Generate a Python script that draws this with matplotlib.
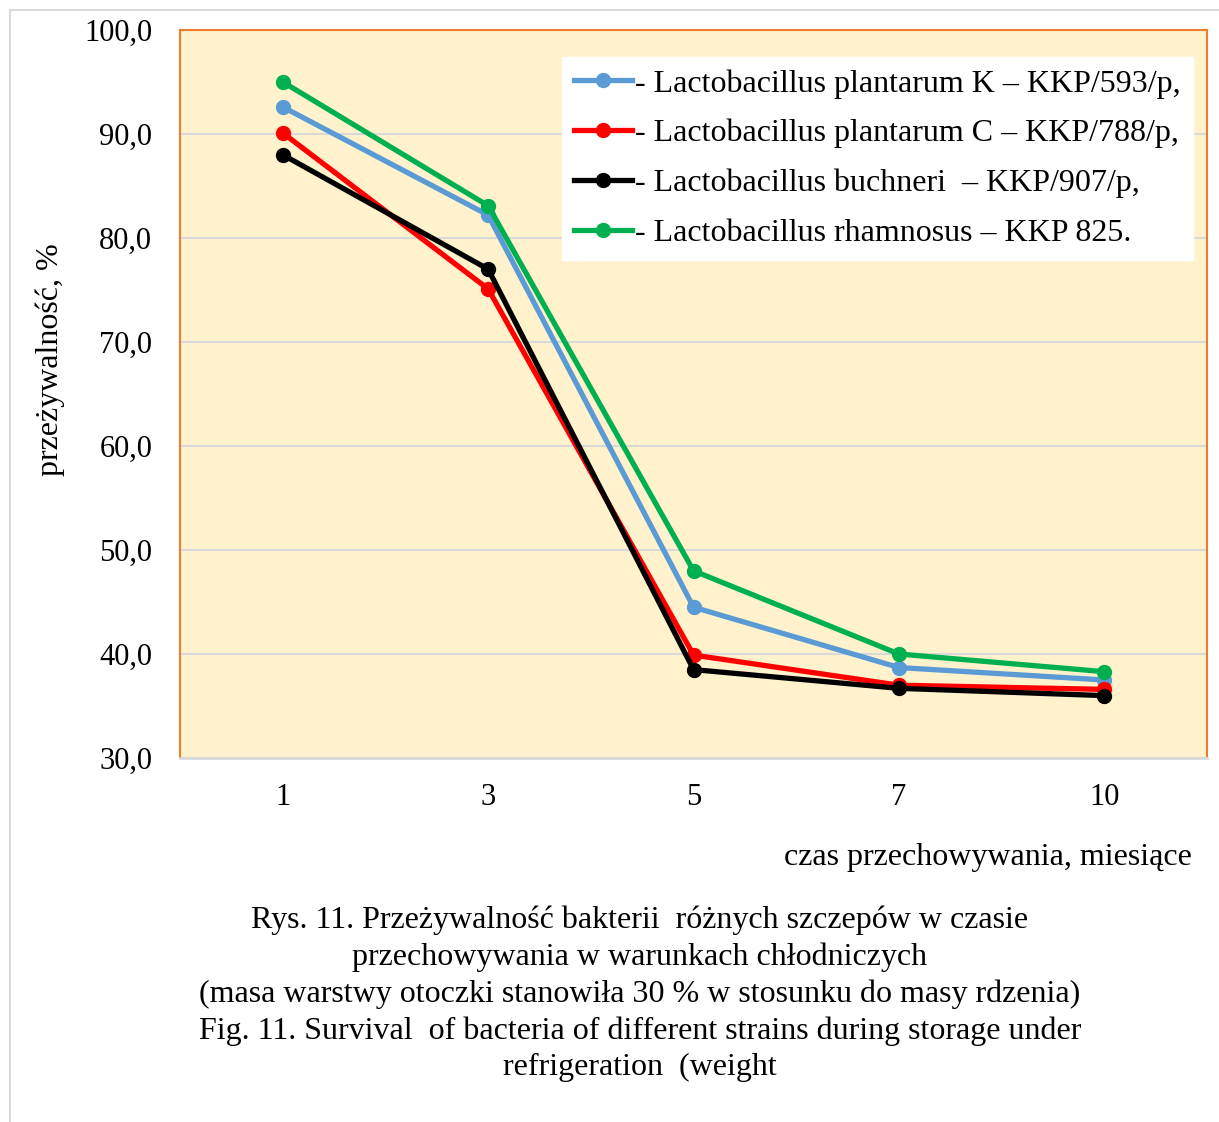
import numpy as np
import matplotlib.pyplot as plt
from matplotlib.patches import Rectangle

plt.rcParams['font.family'] = ['Liberation Serif', 'DejaVu Serif']

# storage time, months (category axis)
months = ['1', '3', '5', '7', '10']

# survival, %
plantarum_k = [92.6, 82.2, 44.5, 38.7, 37.5]
plantarum_c = [90.1, 75.1, 39.9, 37.0, 36.6]
buchneri = [88.0, 77.0, 38.5, 36.7, 36.0]
rhamnosus = [95.0, 83.1, 48.0, 40.0, 38.3]

labels = ['- Lactobacillus plantarum K – KKP/593/p,',
          '- Lactobacillus plantarum C – KKP/788/p,',
          '- Lactobacillus buchneri  – KKP/907/p,',
          '- Lactobacillus rhamnosus – KKP 825.']
colors = ['#5B9BD5', '#FF0000', '#000000', '#00B050']

yticks = [30, 40, 50, 60, 70, 80, 90, 100]

fig = plt.figure(figsize=(12.19, 11.22), dpi=100)
ax = fig.add_axes([0.1477, 0.3244, 0.8425, 0.6489])

x = np.arange(len(months))
for vals, lab, c in zip([plantarum_k, plantarum_c, buchneri, rhamnosus], labels, colors):
    ax.plot(x, vals, color=c, lw=3.8, marker='o', ms=10, label=lab, solid_joinstyle='round')

ax.set_xlim(-0.5, len(months) - 0.5)
ax.set_ylim(30, 100)
ax.set_xticks(x)
ax.set_xticklabels(months)
ax.set_yticks(yticks)
ax.set_yticklabels([f'{v:.1f}'.replace('.', ',') for v in yticks])
ax.tick_params(length=0, labelsize=22)
ax.tick_params(axis='y', pad=20)
ax.tick_params(axis='x', pad=18)
ax.set_facecolor('#FFF2CC')
ax.grid(axis='y', color='#D9D9D9', lw=1.5)
ax.set_axisbelow(True)
for side in ['left', 'top', 'right']:
    ax.spines[side].set_color('#ED7D31')
    ax.spines[side].set_linewidth(1.5)
ax.spines['bottom'].set_color('#D9D9D9')
ax.spines['bottom'].set_linewidth(2)

ax.set_ylabel('przeżywalność, %', fontsize=23, labelpad=14)
ax.yaxis.label.set_y(0.547)
fig.text(0.978, 0.236, 'czas przechowywania, miesiące', fontsize=23, ha='right', va='center')

leg = ax.legend(loc='upper right', bbox_to_anchor=(0.986, 0.963), fontsize=23,
                frameon=True, fancybox=False, framealpha=1, edgecolor='white',
                handlelength=1.8, handletextpad=0.1, borderpad=0.38, labelspacing=0.64,
                borderaxespad=0)

caption = ('Rys. 11. Przeżywalność bakterii  różnych szczepów w czasie\n'
           'przechowywania w warunkach chłodniczych\n'
           '(masa warstwy otoczki stanowiła 30 % w stosunku do masy rdzenia)\n'
           'Fig. 11. Survival  of bacteria of different strains during storage under\n'
           'refrigeration  (weight')
fig.text(0.525, 0.193, caption, fontsize=23, ha='center', va='top', linespacing=1.33)

# outer frame
fig.patches.append(Rectangle((10 / 1219, -0.01), 1.1, 1 - 10 / 1122 + 0.01, transform=fig.transFigure,
                             fill=False, edgecolor='#D9D9D9', lw=1.5))

fig.savefig('out.png', dpi=100)
